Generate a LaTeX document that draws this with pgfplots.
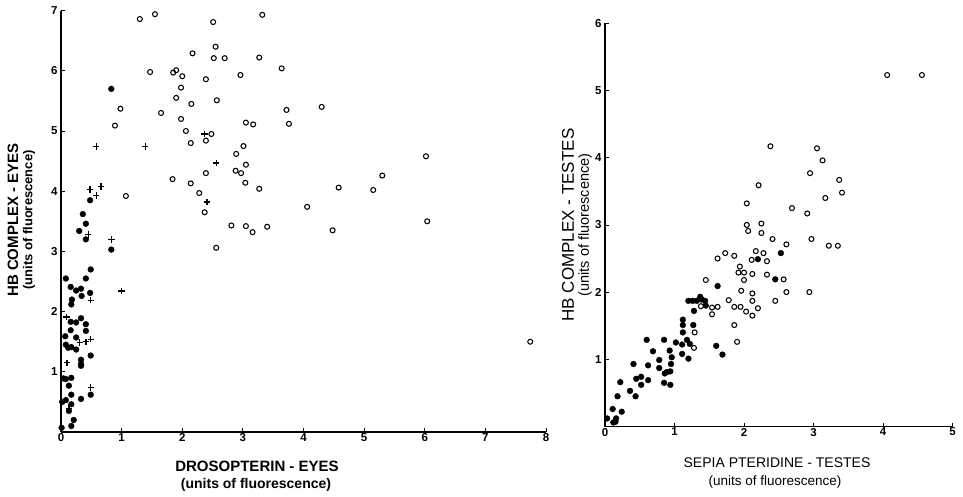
\documentclass[border=0pt]{standalone}
\usepackage{fontspec}
\setmainfont{Liberation Sans}
\usepackage{pgfplots}
\pgfplotsset{compat=1.18}
\begin{document}
\begin{tikzpicture}[x=1pt,y=1pt]
\useasboundingbox (0,0) rectangle (963,496);
\pgfplotsset{
 myax/.style={scale only axis, axis lines*=left,
   axis line style={line width=1.5pt, black},
   tick align=inside, major tick length=4pt,
   tick style={black, line width=0.8pt}, clip=false,
   /pgf/number format/assume math mode=true,
   ticklabel style={font=\bfseries\fontsize{11.5}{13}\selectfont},
   xticklabel style={yshift=2pt},
   every axis plot/.append style={only marks}},
 oo/.style={mark=o, mark size=2.5pt, mark options={line width=1.05pt, black}},
 ff/.style={mark=*, mark size=2.9pt, mark options={black, fill=black}},
 pp/.style={mark=+, mark size=3.2pt, mark options={line width=1.3pt, black}}
}
% ---------- left panel ----------
\begin{axis}[myax, at={(61pt,64pt)}, anchor=south west,
  width=485pt, height=421.4pt, xmin=0, xmax=8, ymin=0, ymax=7,
  xtick={0,...,8}, ytick={1,...,7}]
\addplot[oo] coordinates {
(1.30,6.86)(1.55,6.94)(2.51,6.81)(3.32,6.93)
(1.47,5.98)(2.17,6.29)(2.55,6.40)(2.52,6.21)(2.70,6.21)(3.27,6.22)(3.64,6.04)
(1.85,5.97)(1.90,6.01)(2.00,5.91)(2.39,5.86)(2.96,5.93)
(1.98,5.72)(1.90,5.55)(2.15,5.45)(2.57,5.51)
(0.98,5.37)(1.65,5.30)(1.98,5.20)(0.89,5.09)(2.06,5.00)
(2.14,4.80)(2.39,4.84)(2.48,4.95)(3.05,5.14)(3.17,5.11)(3.72,5.35)(4.30,5.40)(3.76,5.12)
(2.89,4.62)(3.01,4.75)(3.05,4.44)(2.88,4.34)(2.97,4.30)(2.39,4.30)(3.04,4.14)
(1.84,4.20)(2.14,4.13)(2.28,3.97)(1.07,3.92)(3.27,4.04)(4.58,4.06)(5.15,4.02)(5.30,4.26)(6.02,4.58)
(2.37,3.65)(4.06,3.74)(2.81,3.43)(3.05,3.42)(3.16,3.32)(3.40,3.41)(4.48,3.35)(6.04,3.50)
(2.56,3.06)(7.74,1.50)
};
\addplot[ff] coordinates {
(0.83,5.70)(0.36,3.62)(0.41,3.46)(0.30,3.34)(0.41,3.20)(0.48,3.85)(0.83,3.03)
(0.08,2.55)(0.16,2.41)(0.18,2.20)(0.17,2.12)(0.25,2.35)(0.33,2.38)(0.34,2.26)(0.41,2.55)(0.49,2.70)(0.48,2.31)
(0.16,1.83)(0.25,1.82)(0.33,1.89)(0.41,1.79)(0.41,1.68)(0.16,1.69)(0.07,1.59)(0.25,1.57)
(0.08,1.45)(0.12,1.40)(0.17,1.41)(0.25,1.37)(0.33,1.20)(0.33,1.13)(0.33,1.10)(0.49,1.27)
(0.04,0.89)(0.08,0.88)(0.17,0.90)(0.13,0.77)(0.17,0.62)(0.08,0.53)(0.02,0.50)(0.33,0.55)(0.49,0.62)
(0.17,0.46)(0.13,0.35)(0.21,0.20)(0.17,0.10)(0.01,0.07)
};
\addplot[pp] coordinates {
(0.58,4.74)(1.39,4.74)(2.37,4.95)(2.56,4.47)(2.41,3.82)(0.48,4.03)(0.66,4.08)(0.58,3.93)(0.45,3.28)(0.83,3.20)
(1.00,2.34)(0.49,2.19)(0.09,1.91)(0.41,1.50)(0.31,1.49)(0.49,1.54)(0.10,1.15)(0.49,0.74)(0.13,0.39)
};
\end{axis}
% ---------- right panel ----------
\begin{axis}[myax, at={(605pt,69.5pt)}, anchor=south west,
  width=347.5pt, height=403.2pt, xmin=0, xmax=5, ymin=0, ymax=6,
  xtick={0,...,5}, ytick={1,...,6}]
\addplot[oo] coordinates {
(2.38,4.17)(2.21,3.59)(2.04,3.32)(2.04,3.00)(2.06,2.91)(2.25,3.02)(2.25,2.88)(2.41,2.79)
(1.38,1.79)(1.45,2.18)(1.54,1.77)(1.54,1.67)(1.62,1.78)(1.62,2.50)(1.73,2.58)(1.78,1.88)
(1.86,2.54)(1.86,1.78)(1.86,1.51)(1.90,1.26)(1.94,2.38)(1.92,2.29)(2.00,2.29)(2.00,2.18)
(1.96,2.02)(1.95,1.78)(2.03,1.71)(2.12,1.98)(2.12,1.87)(2.12,1.65)(2.12,2.27)(2.11,2.48)
(2.17,2.61)(2.28,2.58)(2.33,2.46)(2.33,2.26)(2.20,1.76)(2.45,1.87)(1.29,1.40)(1.28,1.17)
(3.05,4.14)(3.13,3.96)(2.95,3.77)(3.37,3.67)(3.41,3.48)(3.17,3.40)(2.69,3.25)(2.91,3.17)
(2.61,2.71)(2.97,2.79)(3.22,2.69)(3.35,2.69)(2.57,2.19)(2.61,2.00)(2.94,2.00)
(4.06,5.23)(4.56,5.23)
};
\addplot[ff] coordinates {
(0.03,0.12)(0.11,0.26)(0.16,0.12)(0.15,0.07)(0.12,0.06)(0.24,0.22)(0.18,0.45)(0.22,0.66)
(0.36,0.53)(0.44,0.45)(0.41,0.93)(0.45,0.71)(0.52,0.74)(0.52,0.62)(0.62,0.91)(0.62,0.69)
(0.60,1.29)(0.69,1.12)(0.78,0.99)(0.78,0.87)(0.85,1.29)(0.86,0.79)(0.89,0.81)(0.94,0.82)
(0.85,0.65)(0.94,0.62)(0.95,0.93)(0.96,1.03)(0.93,1.13)(1.02,1.25)(1.12,1.59)(1.12,1.51)
(1.12,1.40)(1.11,1.22)(1.11,1.08)(1.18,1.29)(1.22,1.23)(1.20,1.01)(1.27,1.51)(1.28,1.72)
(1.20,1.87)(1.26,1.87)(1.32,1.87)(1.37,1.93)(1.39,1.89)(1.44,1.87)(1.45,1.80)(1.62,2.09)
(1.60,1.20)(1.69,1.07)(2.20,2.49)(2.45,2.19)(2.53,2.58)
};
\end{axis}
% ---------- labels ----------
\node[rotate=90, font=\bfseries\fontsize{15}{17}\selectfont] at (13,276) {HB COMPLEX - EYES};
\node[rotate=90, font=\bfseries\fontsize{13}{15}\selectfont] at (29,276) {(units of fluorescence)};
\node[font=\bfseries\fontsize{15}{17}\selectfont] at (257,30) {DROSOPTERIN - EYES};
\node[font=\bfseries\fontsize{14}{16}\selectfont] at (256,11) {(units of fluorescence)};
\node[rotate=90, font=\fontsize{17}{19}\selectfont] at (568,271) {HB COMPLEX - TESTES};
\node[rotate=90, font=\fontsize{14.5}{16}\selectfont] at (585,271) {(units of fluorescence)};
\node[font=\fontsize{14}{16}\selectfont] at (777,33) {SEPIA PTERIDINE - TESTES};
\node[font=\fontsize{13.5}{15}\selectfont] at (775,14) {(units of fluorescence)};
\end{tikzpicture}
\end{document}
